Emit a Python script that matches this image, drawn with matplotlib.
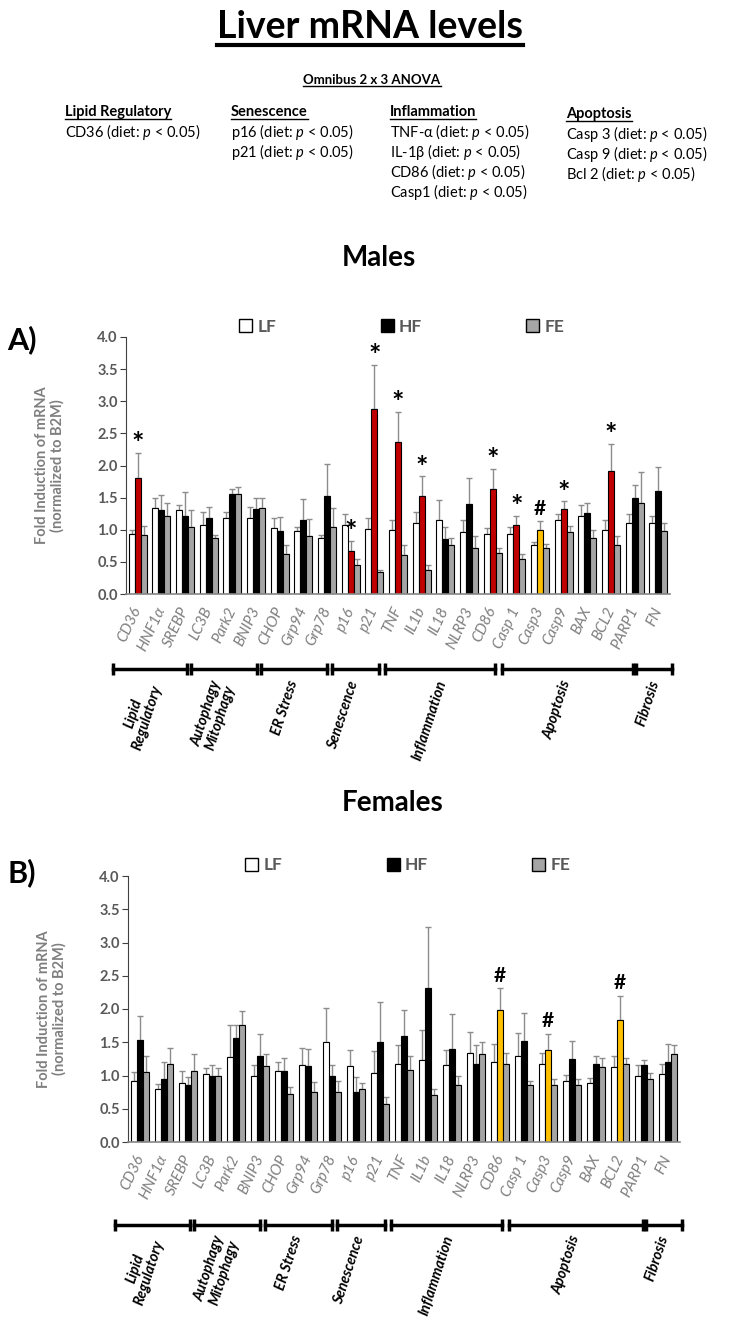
import matplotlib
matplotlib.use('Agg')
import matplotlib.pyplot as plt
import matplotlib.transforms as mtransforms
from matplotlib.patches import Patch
import numpy as np

plt.rcParams['font.family'] = ['Lato', 'DejaVu Sans']
plt.rcParams['mathtext.fontset'] = 'custom'
plt.rcParams['mathtext.rm'] = 'Lato'
plt.rcParams['mathtext.it'] = 'Lato:italic'
plt.rcParams['mathtext.bf'] = 'Lato:bold'

######################## data ##############################

genes = ['CD36', 'HNF1α', 'SREBP', 'LC3B', 'Park2', 'BNIP3', 'CHOP', 'Grp94', 'Grp78',
         'p16', 'p21', 'TNF', 'IL1b', 'IL18', 'NLRP3', 'CD86', 'Casp 1', 'Casp3', 'Casp9',
         'BAX', 'BCL2', 'PARP1', 'FN']

male_lf = [0.94, 1.34, 1.30, 1.08, 1.19, 1.19, 1.03, 0.98, 0.87, 1.08, 1.01, 1.00, 1.11,
           1.15, 0.97, 0.93, 0.93, 0.77, 1.15, 1.21, 0.99, 1.10, 1.10]
male_lf_err = [0.06, 0.15, 0.09, 0.19, 0.09, 0.16, 0.15, 0.06, 0.05, 0.16, 0.18, 0.15, 0.16,
               0.32, 0.18, 0.09, 0.12, 0.04, 0.09, 0.18, 0.16, 0.14, 0.12]
male_hf = [1.81, 1.31, 1.22, 1.19, 1.55, 1.33, 0.98, 1.15, 1.52, 0.67, 2.88, 2.37, 1.53,
           0.85, 1.40, 1.64, 1.08, 0.99, 1.32, 1.26, 1.91, 1.50, 1.60]
male_hf_err = [0.39, 0.23, 0.36, 0.16, 0.08, 0.17, 0.22, 0.33, 0.50, 0.16, 0.68, 0.46, 0.30,
               0.20, 0.41, 0.31, 0.14, 0.14, 0.12, 0.16, 0.43, 0.19, 0.37]
male_fe = [0.92, 1.22, 1.04, 0.87, 1.55, 1.34, 0.63, 0.90, 1.04, 0.45, 0.34, 0.61, 0.37,
           0.77, 0.71, 0.64, 0.54, 0.72, 0.96, 0.87, 0.77, 1.42, 0.98]
male_fe_err = [0.14, 0.19, 0.26, 0.05, 0.11, 0.16, 0.13, 0.27, 0.30, 0.10, 0.04, 0.16, 0.08,
               0.10, 0.20, 0.08, 0.08, 0.06, 0.10, 0.12, 0.14, 0.48, 0.12]
male_marks = {0: '*', 9: '*', 10: '*', 11: '*', 12: '*', 15: '*', 16: '*', 17: '#', 18: '*', 20: '*'}

female_lf = [0.91, 0.79, 0.88, 1.02, 1.28, 1.00, 1.07, 1.16, 1.50, 1.14, 1.04, 1.18, 1.24,
             1.16, 1.34, 1.21, 1.30, 1.18, 0.91, 0.88, 1.13, 1.00, 1.02]
female_lf_err = [0.14, 0.08, 0.19, 0.09, 0.48, 0.16, 0.13, 0.25, 0.51, 0.25, 0.33, 0.28, 0.44,
                 0.22, 0.32, 0.27, 0.34, 0.16, 0.10, 0.08, 0.17, 0.16, 0.16]
female_hf = [1.53, 0.94, 0.85, 1.00, 1.57, 1.30, 1.07, 1.14, 0.99, 0.75, 1.51, 1.60, 2.32,
             1.40, 1.18, 1.99, 1.52, 1.39, 1.25, 1.18, 1.83, 1.16, 1.21]
female_hf_err = [0.37, 0.27, 0.12, 0.16, 0.19, 0.32, 0.20, 0.26, 0.17, 0.23, 0.59, 0.39, 0.91,
                 0.53, 0.28, 0.32, 0.42, 0.23, 0.27, 0.12, 0.37, 0.08, 0.27]
female_fe = [1.05, 1.18, 1.07, 1.00, 1.76, 1.15, 0.72, 0.75, 0.75, 0.79, 0.57, 1.09, 0.71,
             0.86, 1.32, 1.18, 0.85, 0.86, 0.86, 1.13, 1.18, 0.94, 1.32]
female_fe_err = [0.24, 0.23, 0.25, 0.12, 0.21, 0.18, 0.11, 0.15, 0.16, 0.09, 0.11, 0.20, 0.08,
                 0.14, 0.18, 0.16, 0.06, 0.08, 0.08, 0.14, 0.09, 0.10, 0.14]
female_marks = {15: '#', 17: '#', 20: '#'}

groups = ['Lipid\nRegulatory', 'Autophagy\nMitophagy', 'ER Stress', 'Senescence',
          'Inflammation', 'Apoptosis', 'Fibrosis']
group_start = [-1.05, 2.25, 5.2, 8.2, 10.45, 15.38, 21.08]
group_end = [2.1, 5.02, 8.0, 10.2, 15.1, 20.95, 22.6]
group_mid = [0.1, 3.2, 6.2, 8.7, 12.35, 17.75, 21.55]

anova_heads = ['Lipid Regulatory', 'Senescence', 'Inflammation', 'Apoptosis']
anova_rows = [['CD36'], ['p16', 'p21'], ['TNF-α', 'IL-1β', 'CD86', 'Casp1'],
              ['Casp 3', 'Casp 9', 'Bcl 2']]

######################## figure ##############################

W, H = 729, 1317
fig = plt.figure(figsize=(W / 100, H / 100), dpi=100)
GREY = '#7f7f7f'
DARK = '#595959'
RED = '#c00000'
YELLOW = '#ffc000'
FEGREY = '#a5a5a5'


def ftext(x, y, s, **kw):
    return fig.text(x / W, 1 - y / H, s, **kw)


def underline(t, lw, gap=2):
    fig.canvas.draw()
    bb = t.get_window_extent()
    y = bb.y0 - gap
    fig.add_artist(plt.Line2D([bb.x0 / W, bb.x1 / W], [y / H, y / H], color='black', lw=lw))


t = ftext(370, 27, 'Liver mRNA levels', ha='center', va='center', fontsize=27, fontweight='bold')
underline(t, 3, 1)
t = ftext(372, 80, 'Omnibus 2 x 3 ANOVA', ha='center', va='center', fontsize=9.5, fontweight='bold')
underline(t, 1, 0)

col_x = [65, 231, 390, 566]
col_dy = [0, 0, 0, 2]
for head, rows, cx, dy in zip(anova_heads, anova_rows, col_x, col_dy):
    t = ftext(cx, 112 + dy, head, ha='left', va='center', fontsize=10.5, fontweight='bold')
    underline(t, 1, 0)
    for j, r in enumerate(rows):
        ftext(cx, 132 + dy + 20 * j, r + ' (diet: $\\mathit{p}$ < 0.05)', ha='left', va='center',
              fontsize=10.5)


def panel(rect, lf, lf_err, hf, hf_err, fe, fe_err, marks, letter, letter_y,
          title, title_x, title_y, bracket_y, label_y):
    ax = fig.add_axes(rect)
    x = np.arange(len(genes))
    w = 0.254
    hf_colors = []
    for i in range(len(genes)):
        m = marks.get(i)
        hf_colors.append(RED if m == '*' else YELLOW if m == '#' else 'black')
    ax.bar(x - w, lf, w, color='white', edgecolor='black', lw=0.8, zorder=2)
    ax.bar(x, hf, w, color=hf_colors, edgecolor='black', lw=0.8, zorder=2)
    ax.bar(x + w, fe, w, color=FEGREY, edgecolor='black', lw=0.8, zorder=2)
    for xs, v, e in [(x - w, lf, lf_err), (x, hf, hf_err), (x + w, fe, fe_err)]:
        ax.errorbar(xs, v, yerr=[np.zeros(len(v)), e], fmt='none', ecolor='#8c8c8c',
                    elinewidth=1, capsize=2.5, capthick=1, zorder=1)
    for i, m in marks.items():
        top = hf[i] + hf_err[i]
        if m == '*':
            ax.annotate(m, xy=(i, top), xytext=(0, -3), textcoords='offset points',
                        ha='center', va='bottom', fontsize=21, fontweight='bold')
        else:
            ax.annotate(m, xy=(i, top), xytext=(0, 2), textcoords='offset points',
                        ha='center', va='bottom', fontsize=15, fontweight='bold')

    ax.set_xlim(-0.5, len(genes) - 0.5)
    ax.set_ylim(0, 4)
    ax.set_yticks(np.arange(0, 4.01, 0.5))
    ax.set_yticklabels(['%.1f' % v for v in np.arange(0, 4.01, 0.5)], fontsize=10.5,
                       fontweight='bold', color=DARK)
    ax.set_xticks(x)
    ax.set_xticklabels(genes, rotation=65, ha='right', va='center', rotation_mode='anchor',
                       fontsize=11, style='italic', color=GREY)
    ax.tick_params(axis='x', length=0, pad=10)
    ax.tick_params(axis='y', length=4, width=0.8, color='#404040', pad=2)
    for s in ['top', 'right']:
        ax.spines[s].set_visible(False)
    ax.spines['left'].set_color('#404040')
    ax.spines['bottom'].set_color('#868686')
    ax.spines['bottom'].set_linewidth(1.2)
    ax.set_ylabel('Fold Induction of mRNA\n(normalized to B2M)', fontsize=10.5,
                  fontweight='bold', color=GREY, linespacing=1.1)
    ax.yaxis.set_label_coords(-0.112, 0.5)
    handles = [Patch(facecolor='white', edgecolor='black', label='LF'),
               Patch(facecolor='black', edgecolor='black', label='HF'),
               Patch(facecolor=FEGREY, edgecolor='black', label='FE')]
    ax.legend(handles=handles, ncol=3, loc='center', bbox_to_anchor=(0.507, 1.04),
              frameon=False, handlelength=0.75, handleheight=0.75,
              handletextpad=0.3, columnspacing=6.0,
              prop={'weight': 'bold', 'size': 12.5}, labelcolor=DARK)

    trans = mtransforms.blended_transform_factory(ax.transData, ax.transAxes)
    for g, s0, s1, mid in zip(groups, group_start, group_end, group_mid):
        ax.plot([s0, s1], [bracket_y, bracket_y], color='black', lw=2.5, marker='|',
                ms=9, mew=2.5, transform=trans, clip_on=False)
        ax.text(mid, label_y, g, transform=trans, rotation=72, ha='center', va='top',
                multialignment='center', fontsize=10.5, fontweight='bold', style='italic',
                linespacing=1.1)

    ftext(22, letter_y, letter, ha='center', va='center', fontsize=22, fontweight='bold')
    ftext(title_x, title_y, title, ha='center', va='center', fontsize=20, fontweight='bold')
    return ax


panel([126 / W, 1 - 594 / H, 544 / W, 257 / H], male_lf, male_lf_err, male_hf, male_hf_err,
      male_fe, male_fe_err, male_marks, 'A)', 340, 'Males', 379, 258, -0.292, -0.33)
panel([128 / W, 1 - 1142 / H, 552 / W, 266 / H], female_lf, female_lf_err, female_hf,
      female_hf_err, female_fe, female_fe_err, female_marks, 'B)', 873, 'Females', 393, 803,
      -0.312, -0.345)

fig.savefig('out.png', dpi=100)
